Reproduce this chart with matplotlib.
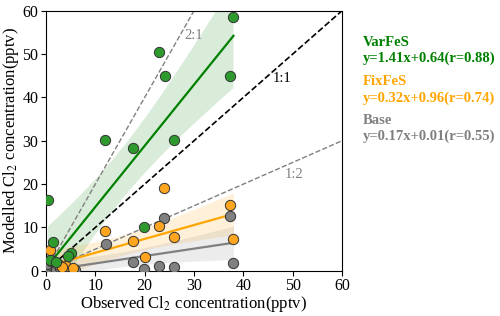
import numpy as np
import matplotlib
matplotlib.use('Agg')
import matplotlib.pyplot as plt

plt.rcParams['font.family'] = ['Liberation Serif', 'DejaVu Serif']
plt.rcParams['mathtext.fontset'] = 'stix'

# observed / modelled Cl2 (pptv)
obs_var = [0.4, 1.4, 5.1, 4.5, 12.0, 17.6, 19.9, 23.0, 24.1, 26.0, 37.2, 38.0, 0.8, 2.0]
mod_var = [16.4, 6.7, 4.1, 3.5, 30.2, 28.3, 10.2, 50.4, 45.0, 30.2, 45.0, 58.6, 2.5, 2.0]

obs_fix = [0.8, 12.0, 17.6, 20.1, 23.9, 23.0, 26.0, 37.2, 38.0, 1.0, 2.5, 4.0, 3.2, 5.5]
mod_fix = [4.9, 9.2, 6.9, 3.2, 19.0, 10.3, 7.7, 15.2, 7.3, 2.3, 1.5, 1.2, 0.8, 0.6]

obs_base = [12.1, 17.6, 19.9, 23.0, 23.9, 26.0, 37.2, 38.0,
            0.5, 1.5, 2.0, 2.8, 3.5, 4.2, 5.0, 5.8, 1.0, 0.3]
mod_base = [6.1, 2.1, 0.5, 1.1, 12.1, 0.8, 12.7, 1.8,
            0.5, 1.0, 0.3, 0.6, 0.2, 0.5, 0.3, 0.2, 2.5, 1.5]

names = ['VarFeS', 'FixFeS', 'Base']
slopes = [1.41, 0.32, 0.17]
intercepts = [0.64, 0.96, 0.01]
rvals = [0.88, 0.74, 0.55]


def fit_band(x, y, a, b):
    x = np.asarray(x); y = np.asarray(y)
    n = len(x)
    xs = np.linspace(x.min(), x.max(), 100)
    res = y - (a * x + b)
    s = np.sqrt(np.sum(res ** 2) / (n - 2))
    sxx = np.sum((x - x.mean()) ** 2)
    se = s * np.sqrt(1.0 / n + (xs - x.mean()) ** 2 / sxx)
    yh = a * xs + b
    return xs, yh, yh - 2.1 * se, yh + 2.1 * se


fig = plt.figure(figsize=(5, 3.16), dpi=100)
ax = fig.add_axes([0.092, 0.143, 0.592, 0.823])

# reference lines
ax.plot([0, 60], [0, 60], '--', color='black', lw=1.2, zorder=2)
ax.plot([0, 30], [0, 60], '--', color='gray', lw=1.0, zorder=2)
ax.plot([0, 60], [0, 30], '--', color='gray', lw=1.0, zorder=2)
ax.text(46, 43.5, '1:1', fontsize=10.5, color='black')
ax.text(28, 53.5, '2:1', fontsize=10.5, color='gray')
ax.text(48.3, 21.5, '1:2', fontsize=10.5, color='gray')

series = [(obs_var, mod_var, '#2e9a2e', 'green', 'green'),
          (obs_fix, mod_fix, '#FFA520', 'orange', 'orange'),
          (obs_base, mod_base, 'gray', 'gray', 'gray')]

for i, (x, y, mc, lc, bc) in enumerate(series):
    xs, yh, lo, hi = fit_band(x, y, slopes[i], intercepts[i])
    ax.fill_between(xs, lo, hi, color=bc, alpha=0.15, lw=0, zorder=1)
    ax.plot(xs, yh, color=lc, lw=1.6, zorder=3)

for x, y, mc, lc, bc in reversed(series):
    ax.scatter(x, y, s=55, color=mc, edgecolor='#333333', lw=0.7, zorder=4)

ax.set_xlim(0, 60)
ax.set_ylim(0, 60)
ax.set_xticks(range(0, 61, 10))
ax.set_yticks(range(0, 61, 10))
ax.tick_params(labelsize=11.5, pad=2)
ax.set_xlabel('Observed Cl$_2$ concentration(pptv)', fontsize=12, labelpad=0)
ax.set_ylabel('Modelled Cl$_2$ concentration(pptv)', fontsize=12, labelpad=1)

txt_colors = ['green', 'orange', 'gray']
ys = [0.867, 0.741, 0.62]
for i in range(3):
    fig.text(0.726, ys[i], names[i], color=txt_colors[i], fontsize=10.5,
             fontweight='bold', va='center')
    fig.text(0.726, ys[i] - 0.051,
             'y=%.2fx+%.2f(r=%.2f)' % (slopes[i], intercepts[i], rvals[i]),
             color=txt_colors[i], fontsize=10.5, fontweight='bold', va='center')

fig.savefig('out.png', dpi=100)
